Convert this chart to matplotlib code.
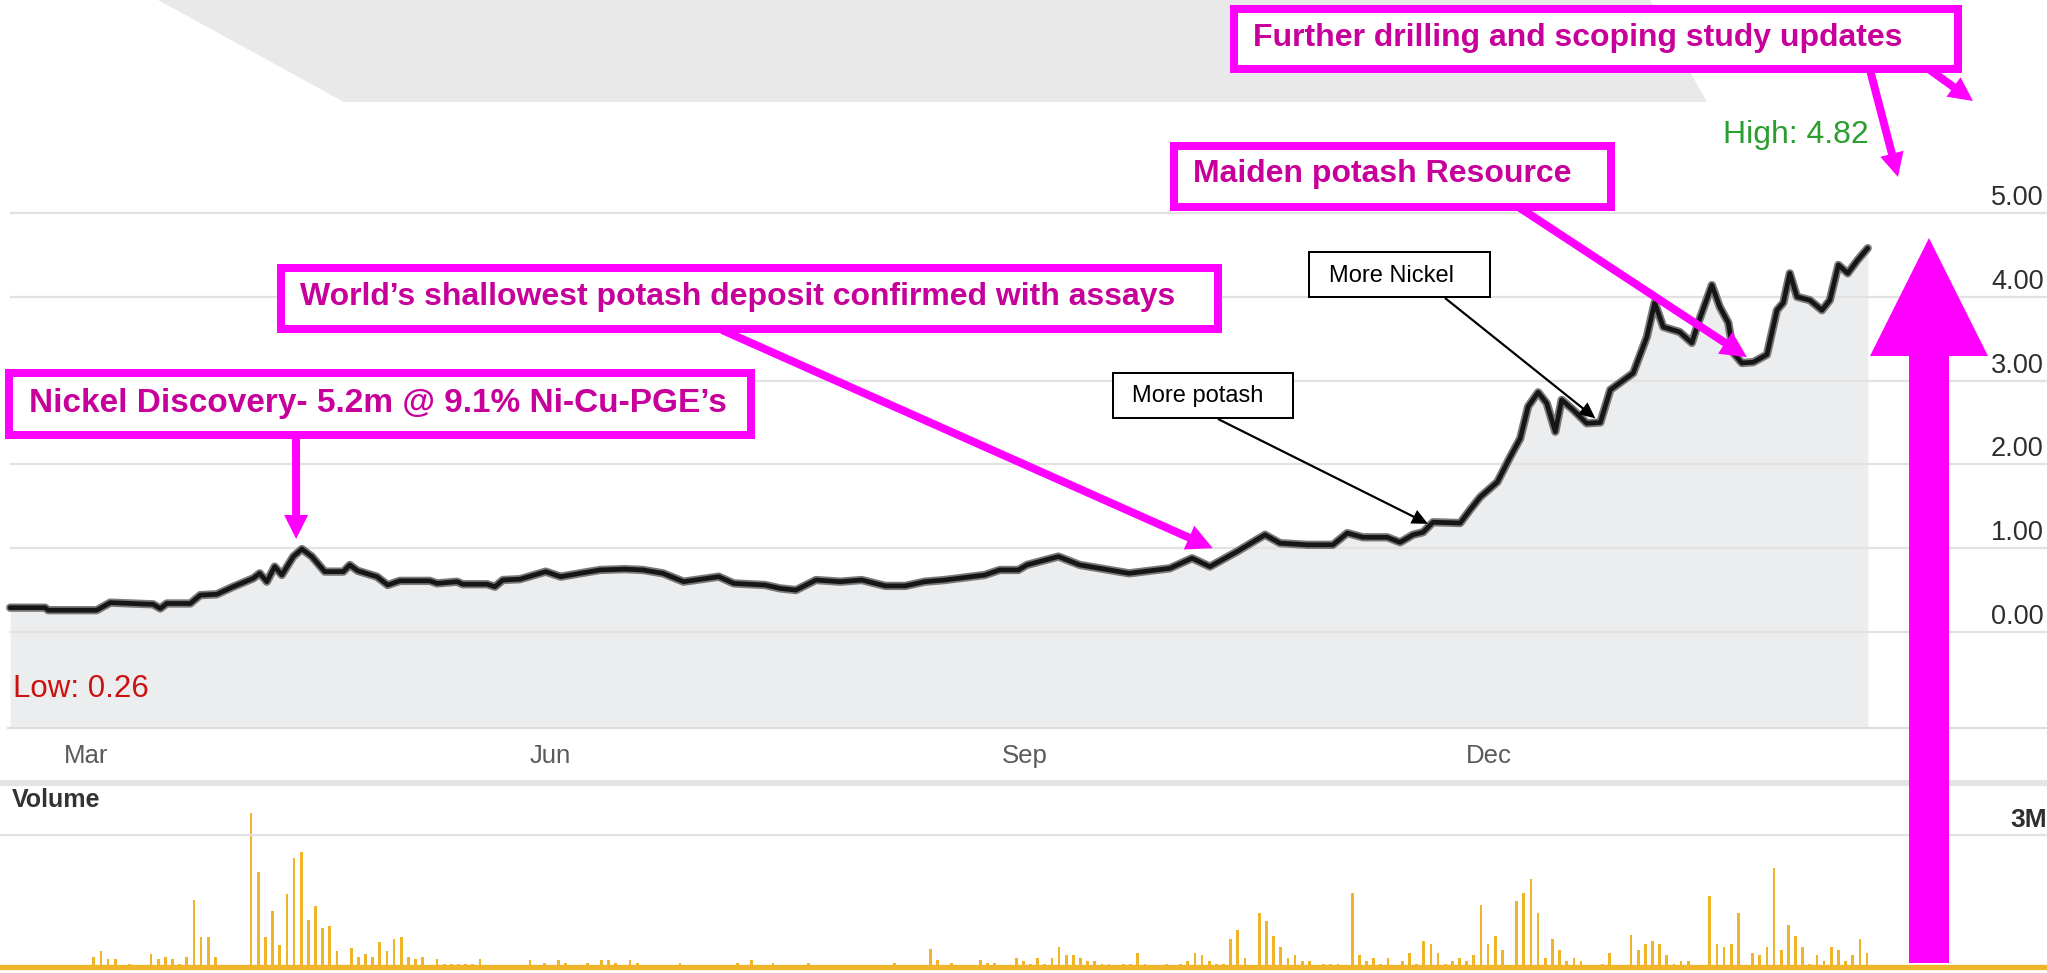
import numpy as np
import matplotlib
matplotlib.use("Agg")
import matplotlib.pyplot as plt
from matplotlib.patches import Polygon, Rectangle
from matplotlib.lines import Line2D
from matplotlib.transforms import IdentityTransform, blended_transform_factory, offset_copy

# ---- data (x = trading day from start of window) ----
price_day = [0.3, 5.2, 5.6, 12.4, 14.3, 20.3, 21.3, 22.2, 25.5, 26.9,
             29.2, 31.5, 34.3, 35.2, 36.2, 37.3, 38.3, 39.9, 41.1, 42.5,
             44.3, 46.9, 47.8, 48.9, 51.6, 53.1, 54.8, 59.0, 60.0, 62.8,
             63.6, 67.0, 68.1, 69.2, 71.6, 75.2, 77.3, 80.0, 82.8, 86.3,
             88.8, 91.6, 94.5, 99.4, 101.5, 105.9, 108.0, 110.2, 113.0, 116.4,
             119.4, 122.7, 125.5, 128.2, 131.0, 133.8, 136.6, 138.7, 141.3, 142.5,
             146.9, 149.9, 156.8, 162.5, 165.6, 168.1, 171.9, 175.8, 177.9, 181.7,
             185.3, 187.3, 189.5, 192.9, 194.7, 196.5, 197.9, 199.3, 203.1, 204.5,
             205.9, 208.3, 210.1, 211.5, 212.6, 214.0, 215.2, 216.4, 217.3, 218.9,
             220.8, 222.7, 224.1, 227.3, 229.2, 230.3, 231.5, 233.8, 235.5, 236.4,
             238.3, 239.4, 240.6, 241.3, 242.5, 244.1, 246.0, 247.4, 248.3, 249.2,
             250.2, 252.0, 253.7, 254.8, 256.0, 257.3, 258.7, 260.1]
price_val = [0.29, 0.29, 0.26, 0.26, 0.35, 0.33, 0.28, 0.34, 0.34, 0.44,
             0.45, 0.54, 0.64, 0.70, 0.60, 0.78, 0.68, 0.90, 0.99, 0.90,
             0.72, 0.72, 0.80, 0.73, 0.66, 0.56, 0.61, 0.61, 0.58, 0.60,
             0.57, 0.57, 0.54, 0.62, 0.63, 0.72, 0.66, 0.70, 0.74, 0.75,
             0.74, 0.70, 0.60, 0.66, 0.58, 0.56, 0.52, 0.50, 0.62, 0.60,
             0.62, 0.55, 0.55, 0.60, 0.62, 0.65, 0.68, 0.74, 0.74, 0.80,
             0.90, 0.80, 0.70, 0.76, 0.88, 0.78, 0.96, 1.16, 1.06, 1.04,
             1.04, 1.18, 1.13, 1.13, 1.07, 1.16, 1.19, 1.31, 1.30, 1.46,
             1.61, 1.79, 2.09, 2.31, 2.69, 2.86, 2.73, 2.39, 2.77, 2.65,
             2.49, 2.50, 2.89, 3.09, 3.52, 3.93, 3.64, 3.58, 3.45, 3.69,
             4.14, 3.88, 3.69, 3.33, 3.21, 3.22, 3.31, 3.84, 3.93, 4.28,
             4.00, 3.96, 3.84, 3.96, 4.38, 4.28, 4.44, 4.58]

vol_day = [12, 13, 14, 15, 17, 20, 21, 22, 23, 24,
           25, 26, 27, 28, 29, 34, 35, 36, 37, 38,
           39, 40, 41, 42, 43, 44, 45, 46, 48, 49,
           50, 51, 52, 53, 54, 55, 56, 57, 58, 60,
           61, 62, 63, 64, 65, 66, 73, 75, 77, 78,
           81, 83, 84, 85, 87, 88, 94, 102, 104, 107,
           112, 124, 129, 130, 132, 136, 137, 138, 141, 142,
           143, 144, 145, 146, 147, 148, 149, 150, 151, 152,
           153, 154, 156, 157, 158, 159, 162, 164, 165, 166,
           167, 168, 169, 170, 171, 172, 173, 175, 176, 177,
           178, 179, 180, 181, 182, 184, 185, 186, 188, 189,
           190, 191, 192, 193, 195, 196, 197, 198, 199, 200,
           201, 202, 203, 204, 205, 206, 207, 208, 209, 211,
           212, 213, 214, 215, 216, 217, 218, 219, 220, 223,
           224, 227, 228, 229, 230, 231, 232, 233, 234, 235,
           238, 239, 240, 241, 242, 244, 245, 246, 247, 248,
           249, 250, 251, 252, 253, 254, 255, 256, 257, 258,
           259, 260]
vol_m = [0.23, 0.36, 0.18, 0.18, 0.07, 0.30, 0.18, 0.23, 0.18, 0.07,
         0.23, 1.52, 0.68, 0.68, 0.23, 3.50, 2.16, 0.68, 1.27, 0.50,
         1.66, 2.48, 2.61, 1.07, 1.39, 0.89, 0.93, 0.36, 0.43, 0.23,
         0.30, 0.23, 0.57, 0.36, 0.64, 0.68, 0.23, 0.18, 0.23, 0.18,
         0.07, 0.07, 0.07, 0.07, 0.07, 0.18, 0.16, 0.10, 0.16, 0.10,
         0.10, 0.16, 0.16, 0.10, 0.16, 0.10, 0.10, 0.10, 0.16, 0.10,
         0.10, 0.10, 0.42, 0.16, 0.10, 0.16, 0.10, 0.10, 0.20, 0.14,
         0.07, 0.20, 0.07, 0.20, 0.45, 0.27, 0.27, 0.20, 0.14, 0.14,
         0.07, 0.07, 0.07, 0.07, 0.32, 0.07, 0.07, 0.07, 0.14, 0.32,
         0.27, 0.14, 0.07, 0.07, 0.64, 0.83, 0.20, 1.23, 1.04, 0.70,
         0.45, 0.20, 0.27, 0.14, 0.14, 0.07, 0.07, 0.07, 1.68, 0.27,
         0.14, 0.20, 0.07, 0.20, 0.14, 0.32, 0.07, 0.58, 0.52, 0.32,
         0.07, 0.14, 0.20, 0.14, 0.27, 1.42, 0.52, 0.70, 0.39, 1.49,
         1.68, 2.00, 1.23, 0.20, 0.64, 0.39, 0.14, 0.20, 0.14, 0.07,
         0.32, 0.72, 0.39, 0.52, 0.58, 0.52, 0.27, 0.07, 0.14, 0.14,
         1.61, 0.52, 0.45, 0.52, 1.23, 0.32, 0.27, 0.45, 2.25, 0.39,
         0.95, 0.70, 0.45, 0.07, 0.27, 0.14, 0.45, 0.39, 0.14, 0.27,
         0.64, 0.32]

month_day = [10.9, 75.8, 142.2, 207.1]
month_lbl = ["Mar", "Jun", "Sep", "Dec"]
price_ticks = [0, 1, 2, 3, 4, 5]
vol_ticks = [3]
vol_lbl = ["3M"]
low_lbl = "Low: 0.26"
high_lbl = "High: 4.82"

MAG = "#ff00ff"
MAG_TXT = "#c8009b"
GOLD = "#f0b429"

plt.rcParams["font.family"] = ["Liberation Sans", "DejaVu Sans"]

W, H = 2047, 973
fig = plt.figure(figsize=(W / 100, H / 100), dpi=100)
fig.patch.set_facecolor("white")

xlim = (-1.12, 285.17)

# price panel
ax = fig.add_axes([0, 1 - 727 / H, 1, (727 - 120) / H])
ax.set_xlim(*xlim)
ax.set_ylim(-1.134, 6.11)
# volume panel
vax = fig.add_axes([0, 0, 1, (973 - 790) / H])
vax.set_xlim(*xlim)
vax.set_ylim(-0.136, 4.023)

for a in (ax, vax):
    a.set_facecolor("none")
    for s in a.spines.values():
        s.set_visible(False)
    a.tick_params(length=0)
    a.set_yticks([])
vax.set_xticks([])
ax.set_xticks(month_day, month_lbl)
ax.tick_params(axis="x", pad=12, labelsize=18.5, labelcolor="#5a5a5a")

# price area + line
ax.fill_between(price_day, price_val, -1.134, color="#ecedef", lw=0, zorder=1)
ax.hlines(price_ticks, 0.3, xlim[1], color="#e2e2e2", lw=1.6, zorder=1.5)
ax.plot(price_day, price_val, color="#7a7a7a", lw=6.0, zorder=3,
        solid_joinstyle="round", solid_capstyle="round")
ax.plot(price_day, price_val, color="#161616", lw=3.4, zorder=4,
        solid_joinstyle="round", solid_capstyle="round")

lab_tr = offset_copy(blended_transform_factory(fig.transFigure, ax.transData),
                     fig=fig, x=0, y=8, units="dots")
for v in price_ticks:
    ax.text(1991 / W, v, f"{v:.2f}", transform=lab_tr, fontsize=19.5,
            color="#2e2e2e", va="baseline", ha="left")

# volume bars
vax.hlines(vol_ticks, xlim[0], xlim[1], color="#e2e2e2", lw=1.6)
vax.bar(vol_day, vol_m, width=0.38, color=GOLD, lw=0)
vax.axhline(0, color=GOLD, lw=3.8)
vtr = offset_copy(blended_transform_factory(fig.transFigure, vax.transData),
                  fig=fig, x=0, y=8, units="dots")
for v, s in zip(vol_ticks, vol_lbl):
    vax.text(2010 / W, v, s, transform=vtr, fontsize=19, weight="bold",
             color="#2e2e2e", va="baseline", ha="left")


# ---- helpers in screen pixels (measured from top-left) ----
def px(x, y):
    return (x, H - y)


def poly(pts, color, z):
    fig.add_artist(Polygon(pts, closed=True, transform=IdentityTransform(),
                           facecolor=color, edgecolor="none", zorder=z))


def arrow(p0, p1, shaft, head_w, head_len, color, z=5):
    p0 = np.asarray(p0, float)
    p1 = np.asarray(p1, float)
    d = p1 - p0
    u = d / np.hypot(*d)
    n = np.array([-u[1], u[0]])
    b = p1 - u * head_len
    pts = [p0 + n * shaft / 2, b + n * shaft / 2, b + n * head_w / 2, p1,
           b - n * head_w / 2, b - n * shaft / 2, p0 - n * shaft / 2]
    poly(pts, color, z)


def box(x0, y0, x1, y1, edge, lw_px, z=6):
    h = lw_px / 2
    fig.add_artist(Rectangle((x0 + h, H - y1 + h), x1 - x0 - lw_px, y1 - y0 - lw_px,
                             transform=IdentityTransform(), facecolor="white",
                             edgecolor=edge, linewidth=lw_px * 0.72,
                             joinstyle="miter", zorder=z))


def label(x, y, s, **kw):
    fig.text(x / W, 1 - y / H, s, ha="left", va="baseline", zorder=7, **kw)


def data_px(d, v):
    return ax.transData.transform((d, v))


# background band at top
poly([px(158, 0), px(344, 102), px(1707, 102), px(1650, 0)], "#e9e9e9", -1)

# panel rules
fig.add_artist(Line2D([8, W], [H - 728, H - 728], color="#dcdcdc", lw=1.5,
                      transform=IdentityTransform()))
fig.add_artist(Line2D([0, W], [H - 783, H - 783], color="#e4e4e4", lw=4.5,
                      transform=IdentityTransform()))

label(12, 807, "Volume", fontsize=18, weight="bold", color="#333333")
label(1723, 143, high_lbl, fontsize=23, color="#2a9e2f")
label(13, 697, low_lbl, fontsize=22.5, color="#cc1111")

# big upward arrow
arrow(px(1929, 963), px(1929, 238), 40, 118, 118, MAG, z=5)

# magenta callouts
arrow(px(296, 436), data_px(40.3, 1.11), 8, 24, 24, MAG)
arrow(px(722, 330), data_px(168.5, 1.0), 8, 26, 26, MAG)
arrow(px(1520, 208), data_px(243.2, 3.28), 8, 26, 26, MAG)
arrow(px(1870, 70), px(1898, 177), 8, 24, 24, MAG)
arrow(px(1930, 70), px(1973, 101), 8, 24, 24, MAG)

box(1230, 5, 1962, 73, MAG, 8)
label(1253, 46, "Further drilling and scoping study updates", fontsize=23,
      weight="bold", color=MAG_TXT)
box(1170, 142, 1615, 211, MAG, 8)
label(1193, 182, "Maiden potash Resource", fontsize=23, weight="bold", color=MAG_TXT)
box(277, 264, 1222, 333, MAG, 8)
label(300, 305, "World\u2019s shallowest potash deposit confirmed with assays",
      fontsize=23, weight="bold", color=MAG_TXT)
box(5, 369, 755, 439, MAG, 8)
label(29, 412, "Nickel Discovery- 5.2m @ 9.1% Ni-Cu-PGE\u2019s", fontsize=24,
      weight="bold", color=MAG_TXT)

# black callouts
arrow(px(1445, 298), data_px(222.0, 2.55), 2.2, 15, 16, "black")
arrow(px(1218, 419), data_px(198.6, 1.29), 2.2, 15, 16, "black")
box(1308, 251, 1491, 298, "black", 2)
label(1329, 282, "More Nickel", fontsize=17, color="black")
box(1112, 372, 1294, 419, "black", 2)
label(1132, 402, "More potash", fontsize=17, color="black")

fig.savefig("out.png", dpi=100)
